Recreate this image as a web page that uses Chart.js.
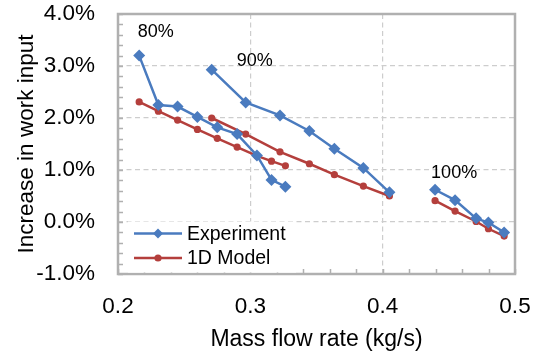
<!DOCTYPE html>
<html>
<head>
<meta charset="utf-8">
<script src="https://cdn.jsdelivr.net/npm/chart.js@4.4.1/dist/chart.umd.min.js"></script>
<style>
  html, body { margin: 0; padding: 0; background: #ffffff; }
  #wrap { width: 548px; height: 355px; }
</style>
</head>
<body>
<div id="wrap"><canvas id="chart" width="548" height="355"></canvas></div>
<script>
// Operating points along each speed line: mass flow rate (kg/s)
const flow80  = [0.216, 0.2305, 0.245, 0.260, 0.275, 0.290, 0.305, 0.316, 0.3265];
const flow90  = [0.2708, 0.2965, 0.3224, 0.3446, 0.3635, 0.3854, 0.4051];
const flow100 = [0.4396, 0.4547, 0.4706, 0.4799, 0.4918];

// Increase in work input (%), measured
const exp80  = [3.20, 2.25, 2.22, 2.02, 1.82, 1.69, 1.28, 0.81, 0.68];
const exp90  = [2.93, 2.30, 2.05, 1.75, 1.41, 1.04, 0.57];
const exp100 = [0.62, 0.42, 0.07, -0.01, -0.20];

// Increase in work input (%), 1D model prediction
const model80  = [2.31, 2.13, 1.96, 1.78, 1.61, 1.44, 1.27, 1.17, 1.08];
const model90  = [2.00, 1.69, 1.35, 1.12, 0.91, 0.69, 0.50];
const model100 = [0.41, 0.21, 0.01, -0.13, -0.27];

// Axis tick values
const xTicks = [0.2, 0.3, 0.4, 0.5];
const yTicks = [-1, 0, 1, 2, 3, 4];

// Speed-line names and series names
const speedNames = ['80%', '90%', '100%'];
const seriesNames = ['Experiment', '1D Model'];

const BLUE = '#4a7bbf';
const RED = '#b43f3c';
const FRAME = '#b0b0b0';
const GRID = '#cdcdcd';
const FONT = "'Liberation Sans', Arial, sans-serif";

function pts(xs, ys) { return xs.map((x, i) => ({ x: x, y: ys[i] })); }

function expSet(xs, ys) {
  return {
    label: seriesNames[0], data: pts(xs, ys),
    borderColor: BLUE, backgroundColor: BLUE, borderWidth: 2.5,
    pointStyle: 'rectRot', pointRadius: 6, pointBorderWidth: 0,
    showLine: true, tension: 0, order: 0
  };
}
function modelSet(xs, ys) {
  return {
    label: seriesNames[1], data: pts(xs, ys),
    borderColor: RED, backgroundColor: RED, borderWidth: 2.5,
    pointStyle: 'circle', pointRadius: 3.6, pointBorderWidth: 0,
    showLine: true, tension: 0, order: 1
  };
}

// Where the speed-line names sit, in data units
const speedLabelAt = [
  { x: 0.2285, y: 3.65 },
  { x: 0.3033, y: 3.09 },
  { x: 0.4540, y: 0.95 }
];

// Frame around the plot, with inward minor ticks on left and bottom,
// plus the speed-line names and the legend drawn inside the plot
const framePlugin = {
  id: 'frame',
  beforeDatasetsDraw(chart) {
    const { ctx, chartArea: a, scales } = chart;
    ctx.save();
    ctx.strokeStyle = FRAME;
    ctx.lineWidth = 1.5;
    ctx.beginPath();
    for (let v = -1; v <= 4.0001; v += 0.2) {
      const y = Math.round(scales.y.getPixelForValue(v)) + 0.5;
      ctx.moveTo(a.left, y); ctx.lineTo(a.left + 5, y);
    }
    for (let v = 0.2; v <= 0.5001; v += 0.02) {
      const x = Math.round(scales.x.getPixelForValue(v)) + 0.5;
      ctx.moveTo(x, a.bottom); ctx.lineTo(x, a.bottom - 5);
    }
    ctx.stroke();
    ctx.lineWidth = 2.5;
    ctx.strokeRect(a.left, a.top, a.right - a.left, a.bottom - a.top);
    ctx.restore();
  },
  afterDraw(chart) {
    const { ctx, scales } = chart;
    ctx.save();
    ctx.fillStyle = '#000';
    ctx.font = '18px ' + FONT;
    ctx.textAlign = 'center';
    ctx.textBaseline = 'middle';
    speedNames.forEach((t, i) => {
      ctx.fillText(t, scales.x.getPixelForValue(speedLabelAt[i].x),
                      scales.y.getPixelForValue(speedLabelAt[i].y));
    });
    const lx = chart.chartArea.left + 16, ly = 233.5, rowH = 24.5;
    ctx.fillStyle = '#fff';
    ctx.fillRect(lx - 6, ly - 12, 168, 2 * rowH + 2);
    const styles = [
      { color: BLUE, pointStyle: 'rectRot', radius: 5 },
      { color: RED, pointStyle: 'circle', radius: 3.6 }
    ];
    styles.forEach((s, i) => {
      const y = ly + i * rowH;
      ctx.strokeStyle = s.color;
      ctx.lineWidth = 2.5;
      ctx.beginPath();
      ctx.moveTo(lx, y); ctx.lineTo(lx + 48, y);
      ctx.stroke();
      ctx.fillStyle = s.color;
      Chart.helpers.drawPoint(ctx, { pointStyle: s.pointStyle, radius: s.radius, rotation: 0, borderWidth: 0 }, lx + 24, y);
      ctx.fillStyle = '#000';
      ctx.font = '19.5px ' + FONT;
      ctx.textAlign = 'left';
      ctx.textBaseline = 'middle';
      ctx.fillText(seriesNames[i], lx + 53, y + 1);
    });
    ctx.restore();
  }
};

new Chart(document.getElementById('chart'), {
  type: 'scatter',
  data: {
    datasets: [
      expSet(flow80, exp80), expSet(flow90, exp90), expSet(flow100, exp100),
      modelSet(flow80, model80), modelSet(flow90, model90), modelSet(flow100, model100)
    ]
  },
  options: {
    responsive: false,
    animation: false,
    devicePixelRatio: 1,
    layout: { padding: { top: 14, right: 33, bottom: 0, left: 0 } },
    plugins: { legend: { display: false }, tooltip: { enabled: false } },
    scales: {
      x: {
        type: 'linear', min: 0.2, max: 0.5,
        afterBuildTicks: s => { s.ticks = xTicks.map(v => ({ value: v })); },
        afterFit: s => { s.height = 81; },
        ticks: {
          color: '#000', padding: 0, font: { family: FONT, size: 22.5 },
          callback: v => v.toFixed(1)
        },
        grid: { color: GRID, lineWidth: 1.2, drawTicks: true, tickLength: 19, tickColor: 'rgba(0,0,0,0)' },
        border: { display: false, dash: [5, 3.5] },
        title: {
          display: true, text: 'Mass flow rate (kg/s)', color: '#000',
          font: { family: FONT, size: 23 }, padding: { top: 0, bottom: 2 }
        }
      },
      y: {
        type: 'linear', min: -1, max: 4,
        afterBuildTicks: s => { s.ticks = yTicks.map(v => ({ value: v })); },
        afterFit: s => { s.width = 118; },
        ticks: {
          color: '#000', padding: 0, font: { family: FONT, size: 22.5 },
          callback: v => v.toFixed(1) + '%'
        },
        grid: { color: GRID, lineWidth: 1.2, drawTicks: true, tickLength: 23, tickColor: 'rgba(0,0,0,0)' },
        border: { display: false, dash: [5, 3.5] },
        title: {
          display: true, text: 'Increase in work input', color: '#000',
          font: { family: FONT, size: 22.5 }, padding: { top: 13, bottom: 0 }
        }
      }
    }
  },
  plugins: [framePlugin]
});
</script>
</body>
</html>
